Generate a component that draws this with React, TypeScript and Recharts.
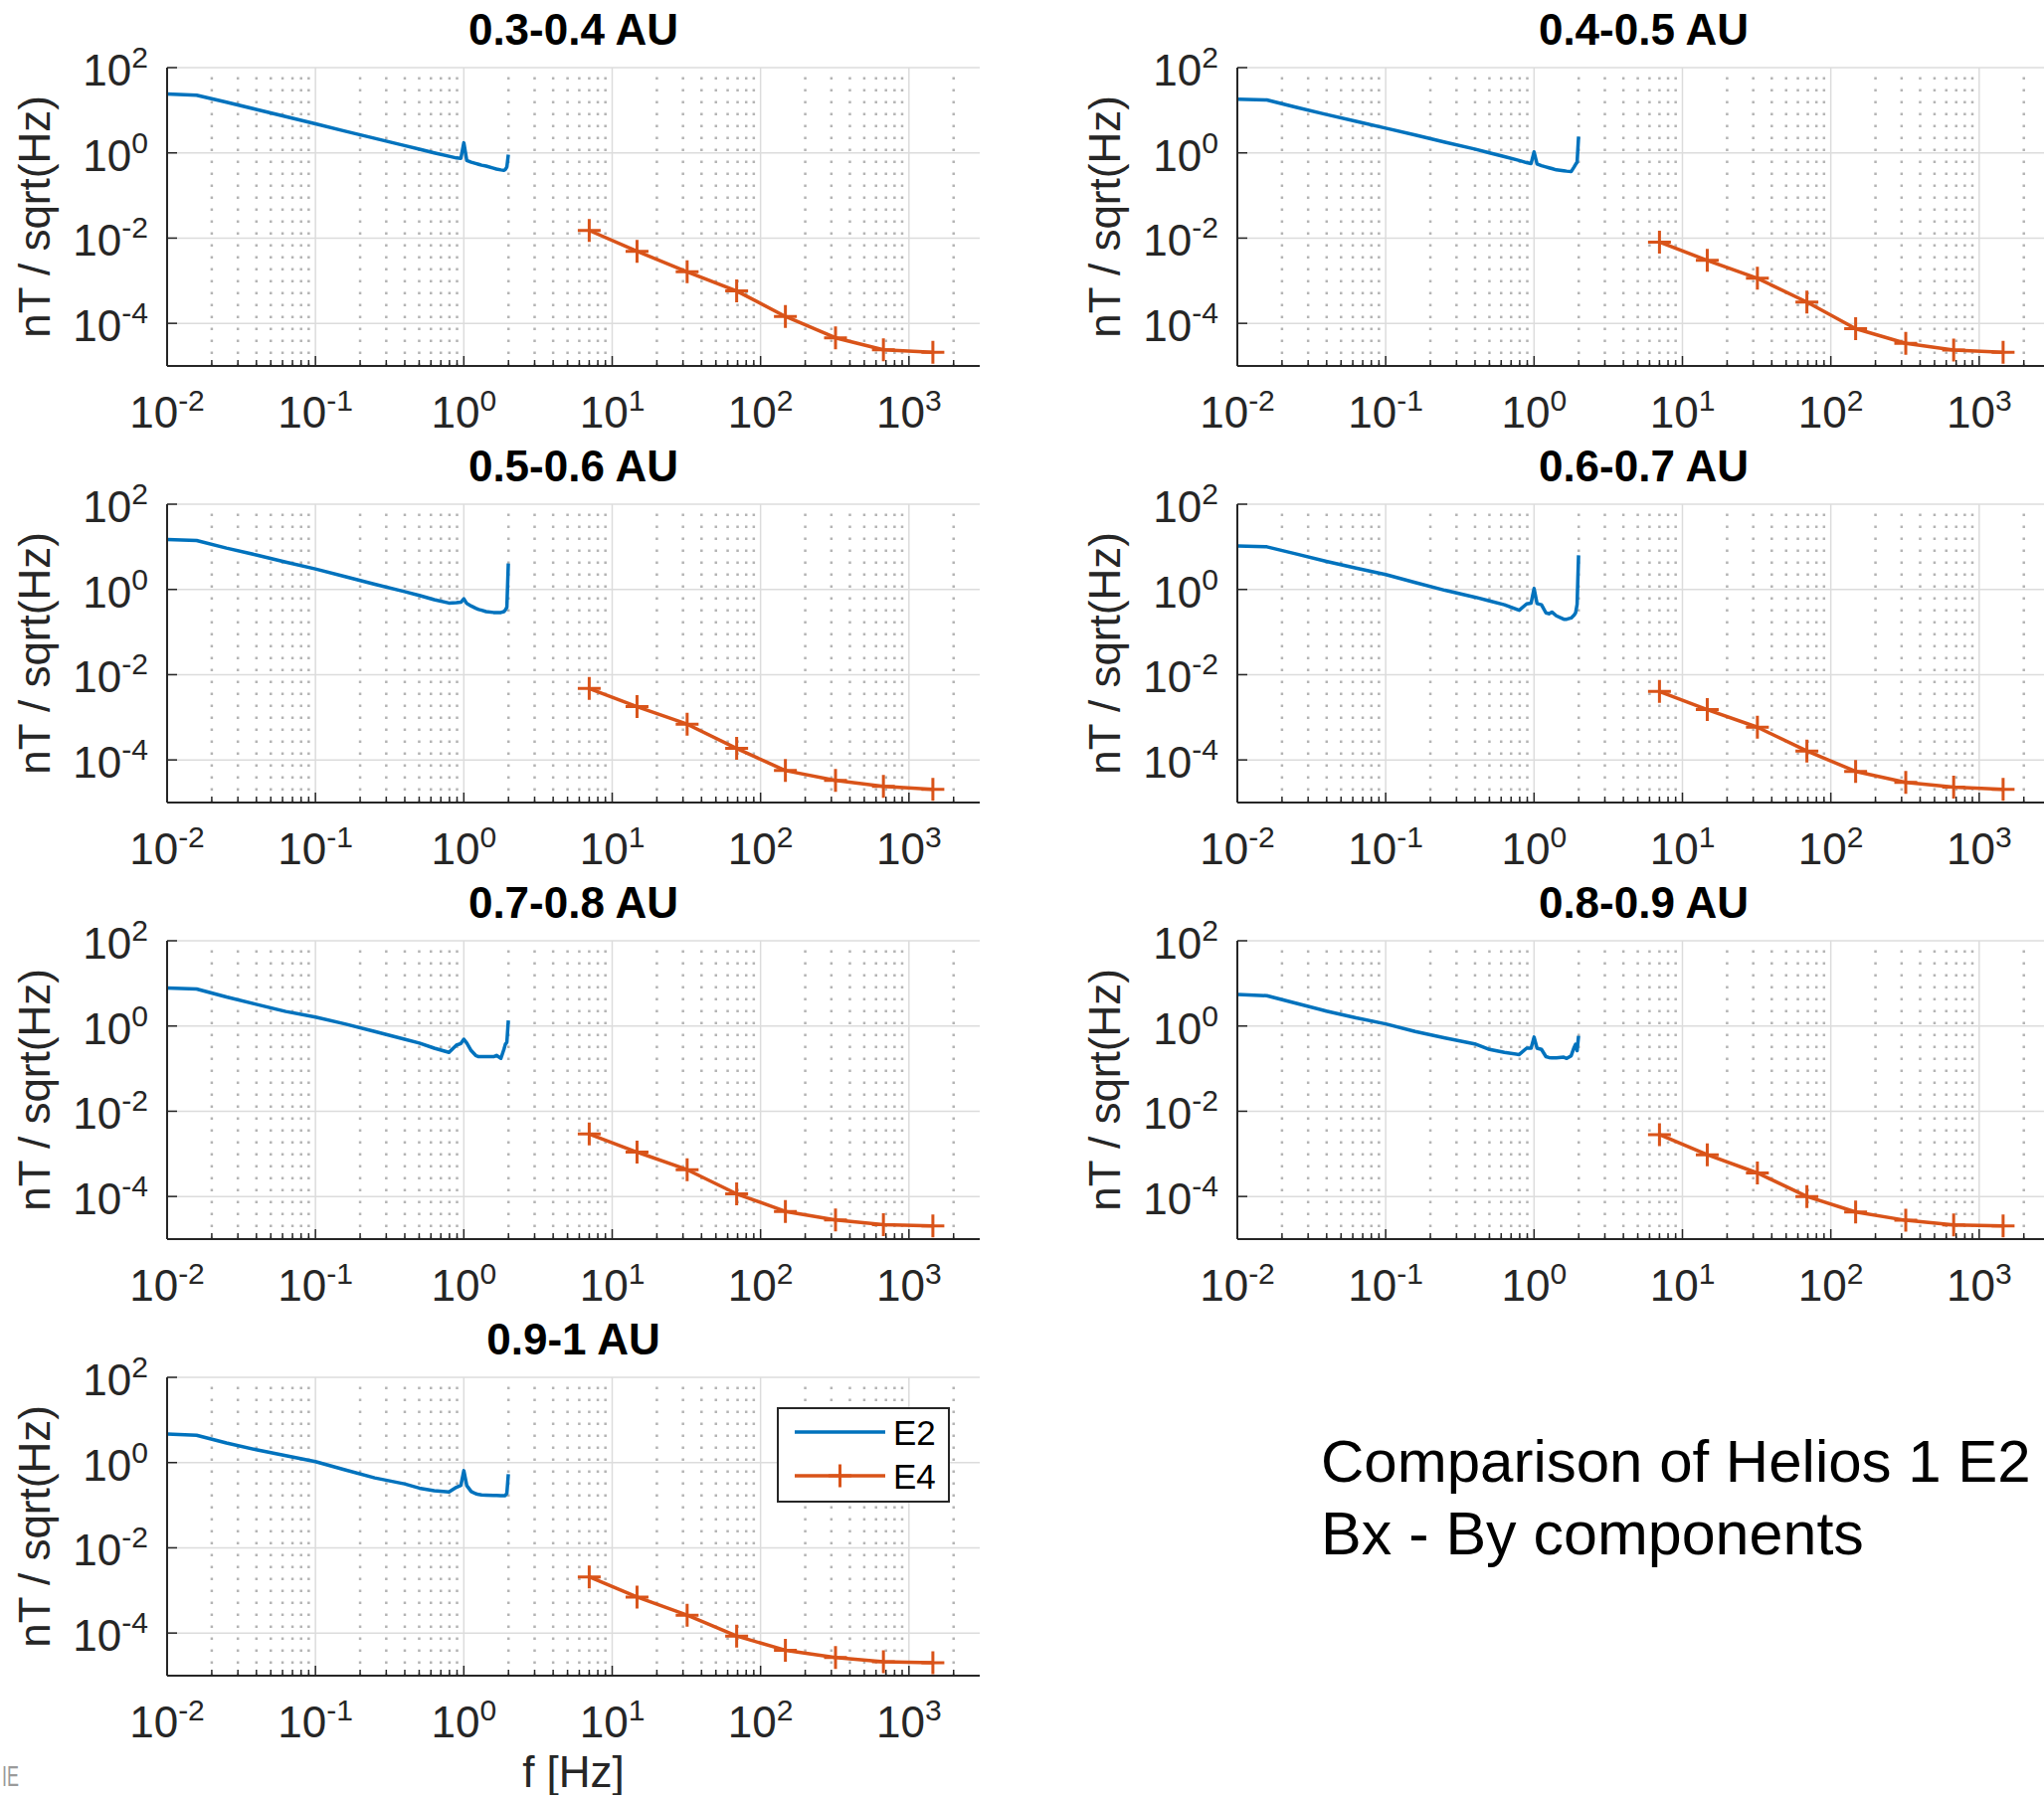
import React from 'react';
import { LineChart, Line, XAxis, YAxis, CartesianGrid, ReferenceLine, Legend } from 'recharts';

// ---------- text / ticks ----------
const PANEL_TITLES = ['0.3-0.4 AU', '0.4-0.5 AU', '0.5-0.6 AU', '0.6-0.7 AU', '0.7-0.8 AU', '0.8-0.9 AU', '0.9-1 AU'];
const Y_LABEL = 'nT / sqrt(Hz)';
const X_LABEL = 'f [Hz]';
const NOTE_LINES = ['Comparison of Helios 1 E2', 'Bx - By components'];
const SERIES_NAMES = ['E2', 'E4'];

const X_MAJOR = [0.01, 0.1, 1, 10, 100, 1000];
const X_MAJOR_EXP = ['-2', '-1', '0', '1', '2', '3'];
const X_MINOR = [
  0.02, 0.03, 0.04, 0.05, 0.06, 0.07, 0.08, 0.09,
  0.2, 0.3, 0.4, 0.5, 0.6, 0.7, 0.8, 0.9,
  2, 3, 4, 5, 6, 7, 8, 9,
  20, 30, 40, 50, 60, 70, 80, 90,
  200, 300, 400, 500, 600, 700, 800, 900,
  2000,
];
const X_DOMAIN = [0.01, 3000];
const Y_MAJOR = [1e-4, 1e-2, 1, 100];
const Y_MAJOR_EXP = ['-4', '-2', '0', '2'];
const Y_DOMAIN = [1e-5, 100];

// ---------- data: E2 (Hz, nT/sqrt(Hz)) ----------
const E2_FREQ = [0.01, 0.0158, 0.0251, 0.0398, 0.0631, 0.1, 0.158, 0.251, 0.398, 0.501, 0.631, 0.794, 0.891, 0.955, 1.0, 1.047, 1.122, 1.202, 1.259, 1.318, 1.413, 1.585, 1.66, 1.778, 1.862, 1.905, 1.95, 1.995];
const E2_P1 = [24, 22.6, 15.5, 10.5, 7.08, 4.79, 3.24, 2.19, 1.48, 1.22, 1.0, 0.832, 0.759, 0.741, 1.72, 0.661, 0.603, 0.562, 0.537, 0.513, 0.49, 0.437, 0.417, 0.398, 0.389, 0.407, 0.468, 0.912];
const E2_P2 = [18.2, 17.4, 11.7, 7.94, 5.5, 3.8, 2.63, 1.78, 1.23, 1.0, 0.813, 0.661, 0.589, 0.562, 1.05, 0.55, 0.501, 0.468, 0.447, 0.427, 0.398, 0.38, 0.372, 0.363, 0.468, 0.537, 0.603, 2.4];
const E2_P3 = [14.8, 14.1, 9.33, 6.46, 4.37, 3.02, 2.0, 1.32, 0.891, 0.724, 0.575, 0.479, 0.49, 0.501, 0.603, 0.468, 0.407, 0.363, 0.339, 0.324, 0.302, 0.288, 0.288, 0.288, 0.302, 0.331, 0.38, 4.07];
const E2_P4 = [10.5, 10.0, 6.76, 4.57, 3.16, 2.24, 1.45, 0.955, 0.661, 0.537, 0.437, 0.324, 0.457, 0.479, 1.05, 0.468, 0.437, 0.282, 0.269, 0.295, 0.24, 0.2, 0.2, 0.214, 0.251, 0.282, 0.447, 6.31];
const E2_P5 = [7.76, 7.41, 4.79, 3.24, 2.19, 1.62, 1.12, 0.741, 0.49, 0.398, 0.302, 0.24, 0.355, 0.389, 0.49, 0.398, 0.263, 0.204, 0.191, 0.191, 0.191, 0.191, 0.204, 0.174, 0.282, 0.372, 0.417, 1.35];
const E2_P6 = [5.5, 5.13, 3.39, 2.24, 1.55, 1.12, 0.741, 0.525, 0.38, 0.282, 0.24, 0.214, 0.302, 0.302, 0.55, 0.302, 0.282, 0.191, 0.182, 0.178, 0.178, 0.186, 0.174, 0.2, 0.316, 0.372, 0.263, 0.589];
const E2_P7 = [4.68, 4.37, 2.88, 2.0, 1.45, 1.05, 0.676, 0.437, 0.316, 0.251, 0.219, 0.204, 0.263, 0.292, 0.646, 0.288, 0.209, 0.186, 0.178, 0.174, 0.172, 0.17, 0.17, 0.168, 0.168, 0.168, 0.191, 0.537];

// ---------- data: E4 ----------
const E4_FREQ = [7.0, 14.7, 32, 69, 147, 320, 673, 1450];
const E4_P1 = [1.51e-2, 4.9e-3, 1.62e-3, 5.75e-4, 1.45e-4, 4.57e-5, 2.4e-5, 2.09e-5];
const E4_P2 = [8.05e-3, 3.0e-3, 1.14e-3, 3.16e-4, 7.5e-5, 3.4e-5, 2.37e-5, 2.09e-5];
const E4_P3 = [4.75e-3, 1.78e-3, 6.89e-4, 1.86e-4, 5.62e-5, 3.29e-5, 2.38e-5, 2.03e-5];
const E4_P4 = [4.03e-3, 1.51e-3, 5.85e-4, 1.62e-4, 5.37e-5, 2.97e-5, 2.31e-5, 2.04e-5];
const E4_P5 = [2.93e-3, 1.1e-3, 4.25e-4, 1.15e-4, 4.46e-5, 2.8e-5, 2.18e-5, 2.03e-5];
const E4_P6 = [2.83e-3, 9.53e-4, 3.56e-4, 1.0e-4, 4.32e-5, 2.76e-5, 2.15e-5, 2.04e-5];
const E4_P7 = [2.08e-3, 7.0e-4, 2.62e-4, 8.51e-5, 3.95e-5, 2.67e-5, 2.12e-5, 2.0e-5];

const E2_PANELS = [E2_P1, E2_P2, E2_P3, E2_P4, E2_P5, E2_P6, E2_P7];
const E4_PANELS = [E4_P1, E4_P2, E4_P3, E4_P4, E4_P5, E4_P6, E4_P7];

// ---------- style / layout ----------
const FONT = '"Liberation Sans", Arial, Helvetica, sans-serif';
const AXIS_COLOR = '#262626';
const BLUE = '#0072BD';
const ORANGE = '#D95319';
const MAJOR_GRID = '#dcdcdc';
const MINOR_GRID = '#b4b4b4';

const PLOT_LEFT = [168, 1244];
const PLOT_TOPS = [68, 507, 946, 1385];
const PLOT_W = 817;
const PLOT_H = 300;
const Y_AXIS_W = 168;
const MT = 45;
const MR = 20;

const toRows = (xs: number[], ys: number[]) => xs.map((f, i) => ({ f, v: ys[i] }));

function BottomTick(props: any) {
  const { x, y, payload } = props;
  const i = X_MAJOR.indexOf(payload.value);
  const major = i >= 0;
  return (
    <g>
      <line x1={x} x2={x} y1={y} y2={y - (major ? 10 : 6)} stroke={AXIS_COLOR} strokeWidth={1.5} />
      {major && (
        <text x={x} y={y + 62} textAnchor="middle" fill={AXIS_COLOR} fontFamily={FONT}>
          <tspan fontSize={44}>10</tspan>
          <tspan fontSize={30} dy={-17}>{X_MAJOR_EXP[i]}</tspan>
        </text>
      )}
    </g>
  );
}

function TopTick(props: any) {
  const { x, y, payload } = props;
  const major = X_MAJOR.indexOf(payload.value) >= 0;
  return <line x1={x} x2={x} y1={y} y2={y + (major ? 10 : 6)} stroke={AXIS_COLOR} strokeWidth={1.5} />;
}

function LeftTick(props: any) {
  const { x, y, payload } = props;
  const i = Y_MAJOR.indexOf(payload.value);
  return (
    <g>
      <line x1={x} x2={x + 10} y1={y} y2={y} stroke={AXIS_COLOR} strokeWidth={1.5} />
      <text x={x - 19} y={y + 18} textAnchor="end" fill={AXIS_COLOR} fontFamily={FONT}>
        <tspan fontSize={44}>10</tspan>
        <tspan fontSize={30} dy={-18}>{Y_MAJOR_EXP[i]}</tspan>
      </text>
    </g>
  );
}

function RightTick(props: any) {
  const { x, y } = props;
  return <line x1={x} x2={x - 10} y1={y} y2={y} stroke={AXIS_COLOR} strokeWidth={1.5} />;
}

function PlusDot(props: any) {
  const { cx, cy, index } = props;
  if (cx == null || cy == null) return <g key={`p${index}`} />;
  const r = 11.5;
  return (
    <path
      key={`p${index}`}
      d={`M${cx - r},${cy}H${cx + r}M${cx},${cy - r}V${cy + r}`}
      stroke={ORANGE}
      strokeWidth={3}
      fill="none"
    />
  );
}

function renderYTitle(props: any) {
  const vb = props.viewBox || {};
  const bx = (vb.x ?? 0) + 50;
  const cy = (vb.y ?? 0) + (vb.height ?? 0) / 2;
  return (
    <text x={bx} y={cy} transform={`rotate(-90 ${bx} ${cy})`} textAnchor="middle" fontSize={44} fill={AXIS_COLOR} fontFamily={FONT}>
      {Y_LABEL}
    </text>
  );
}

function renderXTitle(props: any) {
  const vb = props.viewBox || {};
  const cx = (vb.x ?? 0) + (vb.width ?? 0) / 2;
  const by = (vb.y ?? 0) + 112;
  return (
    <text x={cx} y={by} textAnchor="middle" fontSize={44} fill={AXIS_COLOR} fontFamily={FONT}>
      {X_LABEL}
    </text>
  );
}

function LegendBox() {
  return (
    <svg width={176} height={98} style={{ display: 'block' }}>
      <rect x={1} y={1} width={172} height={94} fill="#fff" stroke={AXIS_COLOR} strokeWidth={2} />
      <line x1={18} x2={109} y1={25} y2={25} stroke={BLUE} strokeWidth={3.5} />
      <line x1={18} x2={109} y1={69} y2={69} stroke={ORANGE} strokeWidth={3.5} />
      <path d="M52,69H75M63.5,57.5V80.5" stroke={ORANGE} strokeWidth={3} fill="none" />
      <text x={117} y={38} fontSize={35} fill="#000" fontFamily={FONT}>{SERIES_NAMES[0]}</text>
      <text x={117} y={82} fontSize={35} fill="#000" fontFamily={FONT}>{SERIES_NAMES[1]}</text>
    </svg>
  );
}

function Panel({ idx }: { idx: number }) {
  const col = idx % 2;
  const row = Math.floor(idx / 2);
  const isBottom = idx === 6;
  const xh = isBottom ? 120 : 70;
  const chartLeft = PLOT_LEFT[col] - Y_AXIS_W;
  const chartTop = PLOT_TOPS[row] - MT;
  const width = Y_AXIS_W + PLOT_W + MR;
  const height = MT + PLOT_H + xh;
  const e2 = toRows(E2_FREQ, E2_PANELS[idx]);
  const e4 = toRows(E4_FREQ, E4_PANELS[idx]);
  const allTicks = [...X_MAJOR, ...X_MINOR];

  return (
    <div style={{ position: 'absolute', left: chartLeft, top: chartTop }}>
      <LineChart width={width} height={height} margin={{ top: MT, right: MR, left: 0, bottom: 0 }}>
        <CartesianGrid xAxisId="b" yAxisId="l" vertical={false} stroke={MAJOR_GRID} strokeWidth={1.5} />
        {X_MINOR.map((v) => (
          <ReferenceLine key={`mn${v}`} xAxisId="b" yAxisId="l" x={v} stroke={MINOR_GRID} strokeWidth={2.5} strokeDasharray="2.5 9.5" />
        ))}
        {X_MAJOR.slice(1).map((v) => (
          <ReferenceLine key={`mj${v}`} xAxisId="b" yAxisId="l" x={v} stroke={MAJOR_GRID} strokeWidth={1.5} />
        ))}
        <XAxis
          xAxisId="b"
          dataKey="f"
          type="number"
          scale="log"
          domain={X_DOMAIN}
          allowDataOverflow
          ticks={allTicks}
          interval={0}
          tickSize={0}
          tickMargin={0}
          tickLine={false}
          tick={(p: any) => <BottomTick {...p} />}
          axisLine={{ stroke: AXIS_COLOR, strokeWidth: 2 }}
          height={xh}
          orientation="bottom"
          label={isBottom ? renderXTitle : undefined}
        />
        <XAxis
          xAxisId="t"
          dataKey="f"
          type="number"
          scale="log"
          domain={X_DOMAIN}
          allowDataOverflow
          ticks={allTicks}
          interval={0}
          tickSize={0}
          tickMargin={0}
          tickLine={false}
          tick={(p: any) => <TopTick {...p} />}
          axisLine={{ stroke: AXIS_COLOR, strokeWidth: 2 }}
          height={0}
          orientation="top"
        />
        <YAxis
          yAxisId="l"
          type="number"
          scale="log"
          domain={Y_DOMAIN}
          allowDataOverflow
          ticks={Y_MAJOR}
          interval={0}
          tickSize={0}
          tickMargin={0}
          tickLine={false}
          tick={(p: any) => <LeftTick {...p} />}
          axisLine={{ stroke: AXIS_COLOR, strokeWidth: 2 }}
          width={Y_AXIS_W}
          orientation="left"
          label={renderYTitle}
        />
        <YAxis
          yAxisId="r"
          type="number"
          scale="log"
          domain={Y_DOMAIN}
          allowDataOverflow
          ticks={Y_MAJOR}
          interval={0}
          tickSize={0}
          tickMargin={0}
          tickLine={false}
          tick={(p: any) => <RightTick {...p} />}
          axisLine={{ stroke: AXIS_COLOR, strokeWidth: 2 }}
          width={0}
          orientation="right"
        />
        <Line
          xAxisId="b"
          yAxisId="l"
          data={e2}
          dataKey="v"
          name={SERIES_NAMES[0]}
          type="linear"
          stroke={BLUE}
          strokeWidth={3.5}
          dot={false}
          isAnimationActive={false}
          strokeLinejoin="round"
        />
        <Line
          xAxisId="b"
          yAxisId="l"
          data={e4}
          dataKey="v"
          name={SERIES_NAMES[1]}
          type="linear"
          stroke={ORANGE}
          strokeWidth={3.5}
          dot={(p: any) => <PlusDot {...p} key={`d${p.index}`} />}
          isAnimationActive={false}
          strokeLinejoin="round"
        />
        {isBottom && (
          <Legend
            layout="horizontal"
            verticalAlign="middle"
            align="center"
            wrapperStyle={{ position: 'absolute', left: 781, top: 1415 - chartTop, width: 176, height: 98 }}
            content={() => <LegendBox />}
          />
        )}
      </LineChart>
    </div>
  );
}

export default function App() {
  return (
    <div
      style={{
        position: 'absolute',
        left: 0,
        top: 0,
        width: 2055,
        height: 1806,
        overflow: 'hidden',
        background: '#fff',
        fontFamily: FONT,
      }}
    >
      {PANEL_TITLES.map((_, i) => (
        <Panel key={i} idx={i} />
      ))}
      <svg width={2055} height={1806} style={{ position: 'absolute', left: 0, top: 0, pointerEvents: 'none' }}>
        {PANEL_TITLES.map((t, i) => {
          const col = i % 2;
          const row = Math.floor(i / 2);
          return (
            <text
              key={t}
              x={PLOT_LEFT[col] + PLOT_W / 2}
              y={PLOT_TOPS[row] - 23}
              textAnchor="middle"
              fontSize={44}
              fontWeight="bold"
              fill="#000"
              fontFamily={FONT}
            >
              {t}
            </text>
          );
        })}
        <text x={1328} y={1490} fontSize={60} fill="#000" fontFamily={FONT}>{NOTE_LINES[0]}</text>
        <text x={1328} y={1563} fontSize={61} fill="#000" fontFamily={FONT}>{NOTE_LINES[1]}</text>
        <text x={2} y={1796} fontSize={30} fill="#9a9a9a" fontFamily={FONT} textLength={17} lengthAdjust="spacingAndGlyphs">IE</text>
      </svg>
    </div>
  );
}
